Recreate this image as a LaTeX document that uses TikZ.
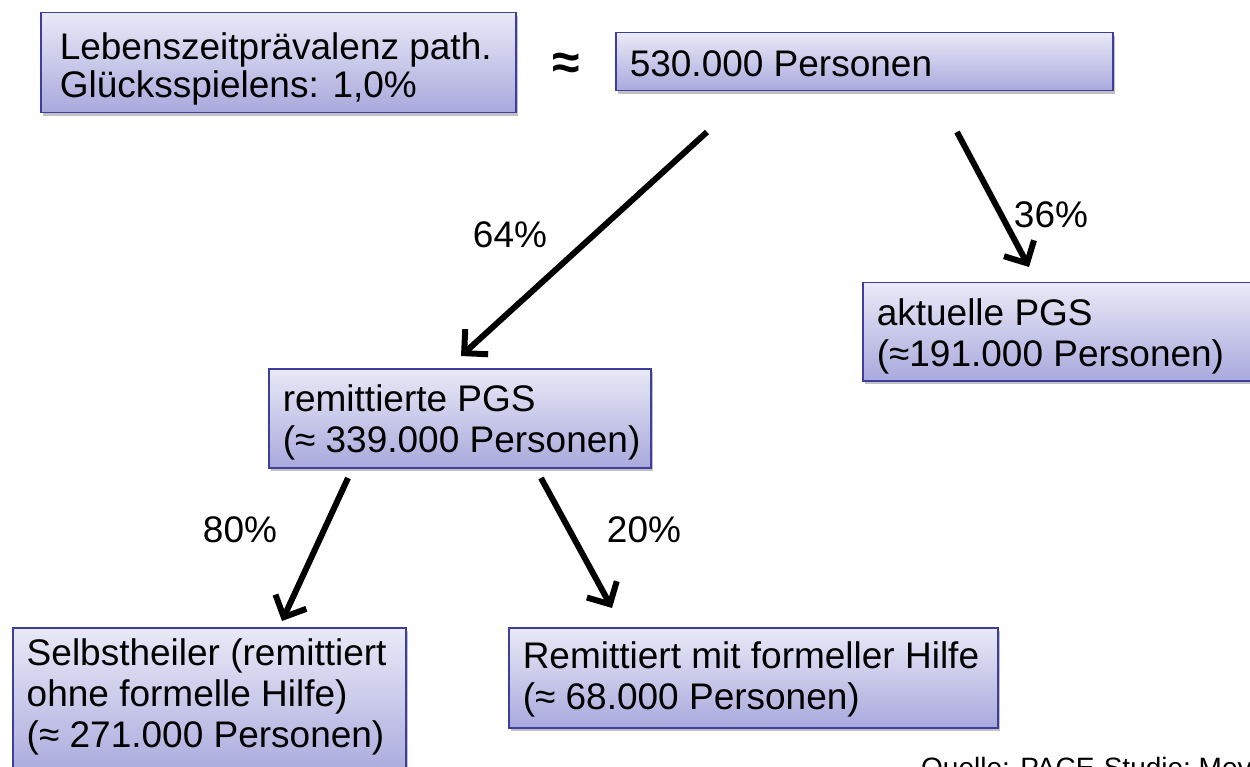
\documentclass[tikz,border=0pt]{standalone}
\usepackage{fontspec}
\setmainfont{Liberation Sans}
\usetikzlibrary{arrows.meta,shadows}
\definecolor{boxtop}{HTML}{E9E9F7}
\definecolor{boxbot}{HTML}{A9A9DD}
\definecolor{boxline}{HTML}{3E3E9E}
\newcommand\boxlines[3][12pt]{\raisebox{0pt}[\dimexpr\height+#1\relax][\depth]{\makebox[#2][l]{\begin{tabular}{@{}l@{}}#3\end{tabular}}}}
\begin{document}
\begin{tikzpicture}[x=1pt,y=-1pt,
  box/.style={draw=boxline, line width=1.5pt, top color=boxtop, bottom color=boxbot,
    drop shadow={shadow xshift=2pt, shadow yshift=-3pt, opacity=0.35, fill=black!70},
    anchor=north west, inner xsep=14pt, inner ysep=0pt,
    font=\fontsize{37}{41}\selectfont},
  lbl/.style={font=\fontsize{37}{41}\selectfont, inner sep=0pt},
  arr/.style={line width=6pt, -{Straight Barb[length=17pt,width=34pt]}}]
\useasboundingbox (0,0) rectangle (1250,767);
\clip (0,0) rectangle (1250,767);

\node[box, inner xsep=19pt, minimum width=475pt, minimum height=100pt, font=\fontsize{37}{37}\selectfont] (prev) at (40,12)
  {\boxlines[16pt]{437pt}{Lebenszeitprävalenz path.\\Glücksspielens: 1,0\%}};
\node[font=\fontsize{50}{50}\selectfont\bfseries, inner sep=0pt] (approx) at (566,66) {≈};
\node[box, minimum width=497pt, minimum height=58pt] (total) at (615,32)
  {\boxlines[14pt]{469pt}{530.000 Personen}};
\node[box, minimum width=430pt, minimum height=98pt] (akt) at (862,282)
  {\boxlines{402pt}{aktuelle PGS\\(≈191.000 Personen)}};
\node[box, minimum width=382pt, minimum height=99pt] (rem) at (268,368)
  {\boxlines{354pt}{remittierte PGS\\(≈ 339.000 Personen)}};
\node[box, minimum width=393pt, minimum height=150pt] (selbst) at (12,627)
  {\raisebox{0pt}[\height][\dimexpr\depth+8pt\relax]{\boxlines[0pt]{365pt}{Selbstheiler (remittiert\\ohne formelle Hilfe)\\(≈ 271.000 Personen)}}};
\node[box, minimum width=489pt, minimum height=100pt] (formell) at (508,627)
  {\boxlines[6pt]{461pt}{Remittiert mit formeller Hilfe\\(≈ 68.000 Personen)}};

\coordinate (s1) at (707,132); \coordinate (e1) at (461,356);
\coordinate (s2) at (957,132); \coordinate (e2) at (1029,267);
\coordinate (s3) at (348,478); \coordinate (e3) at (282,621);
\coordinate (s4) at (541,478); \coordinate (e4) at (612,608);
\draw[arr] (s1) -- (e1);
\draw[arr] (s2) -- (e2);
\draw[arr] (s3) -- (e3);
\draw[arr] (s4) -- (e4);

\node[lbl] (p64) at (510,235) {64\%};
\node[lbl] (p36) at (1051,215) {36\%};
\node[lbl] (p80) at (240,530) {80\%};
\node[lbl] (p20) at (644,530) {20\%};

\node[font=\fontsize{28}{30}\selectfont, anchor=base west, inner sep=0pt] (quelle) at (921,777) {Quelle: PACE-Studie; Mey};
\end{tikzpicture}
\end{document}
